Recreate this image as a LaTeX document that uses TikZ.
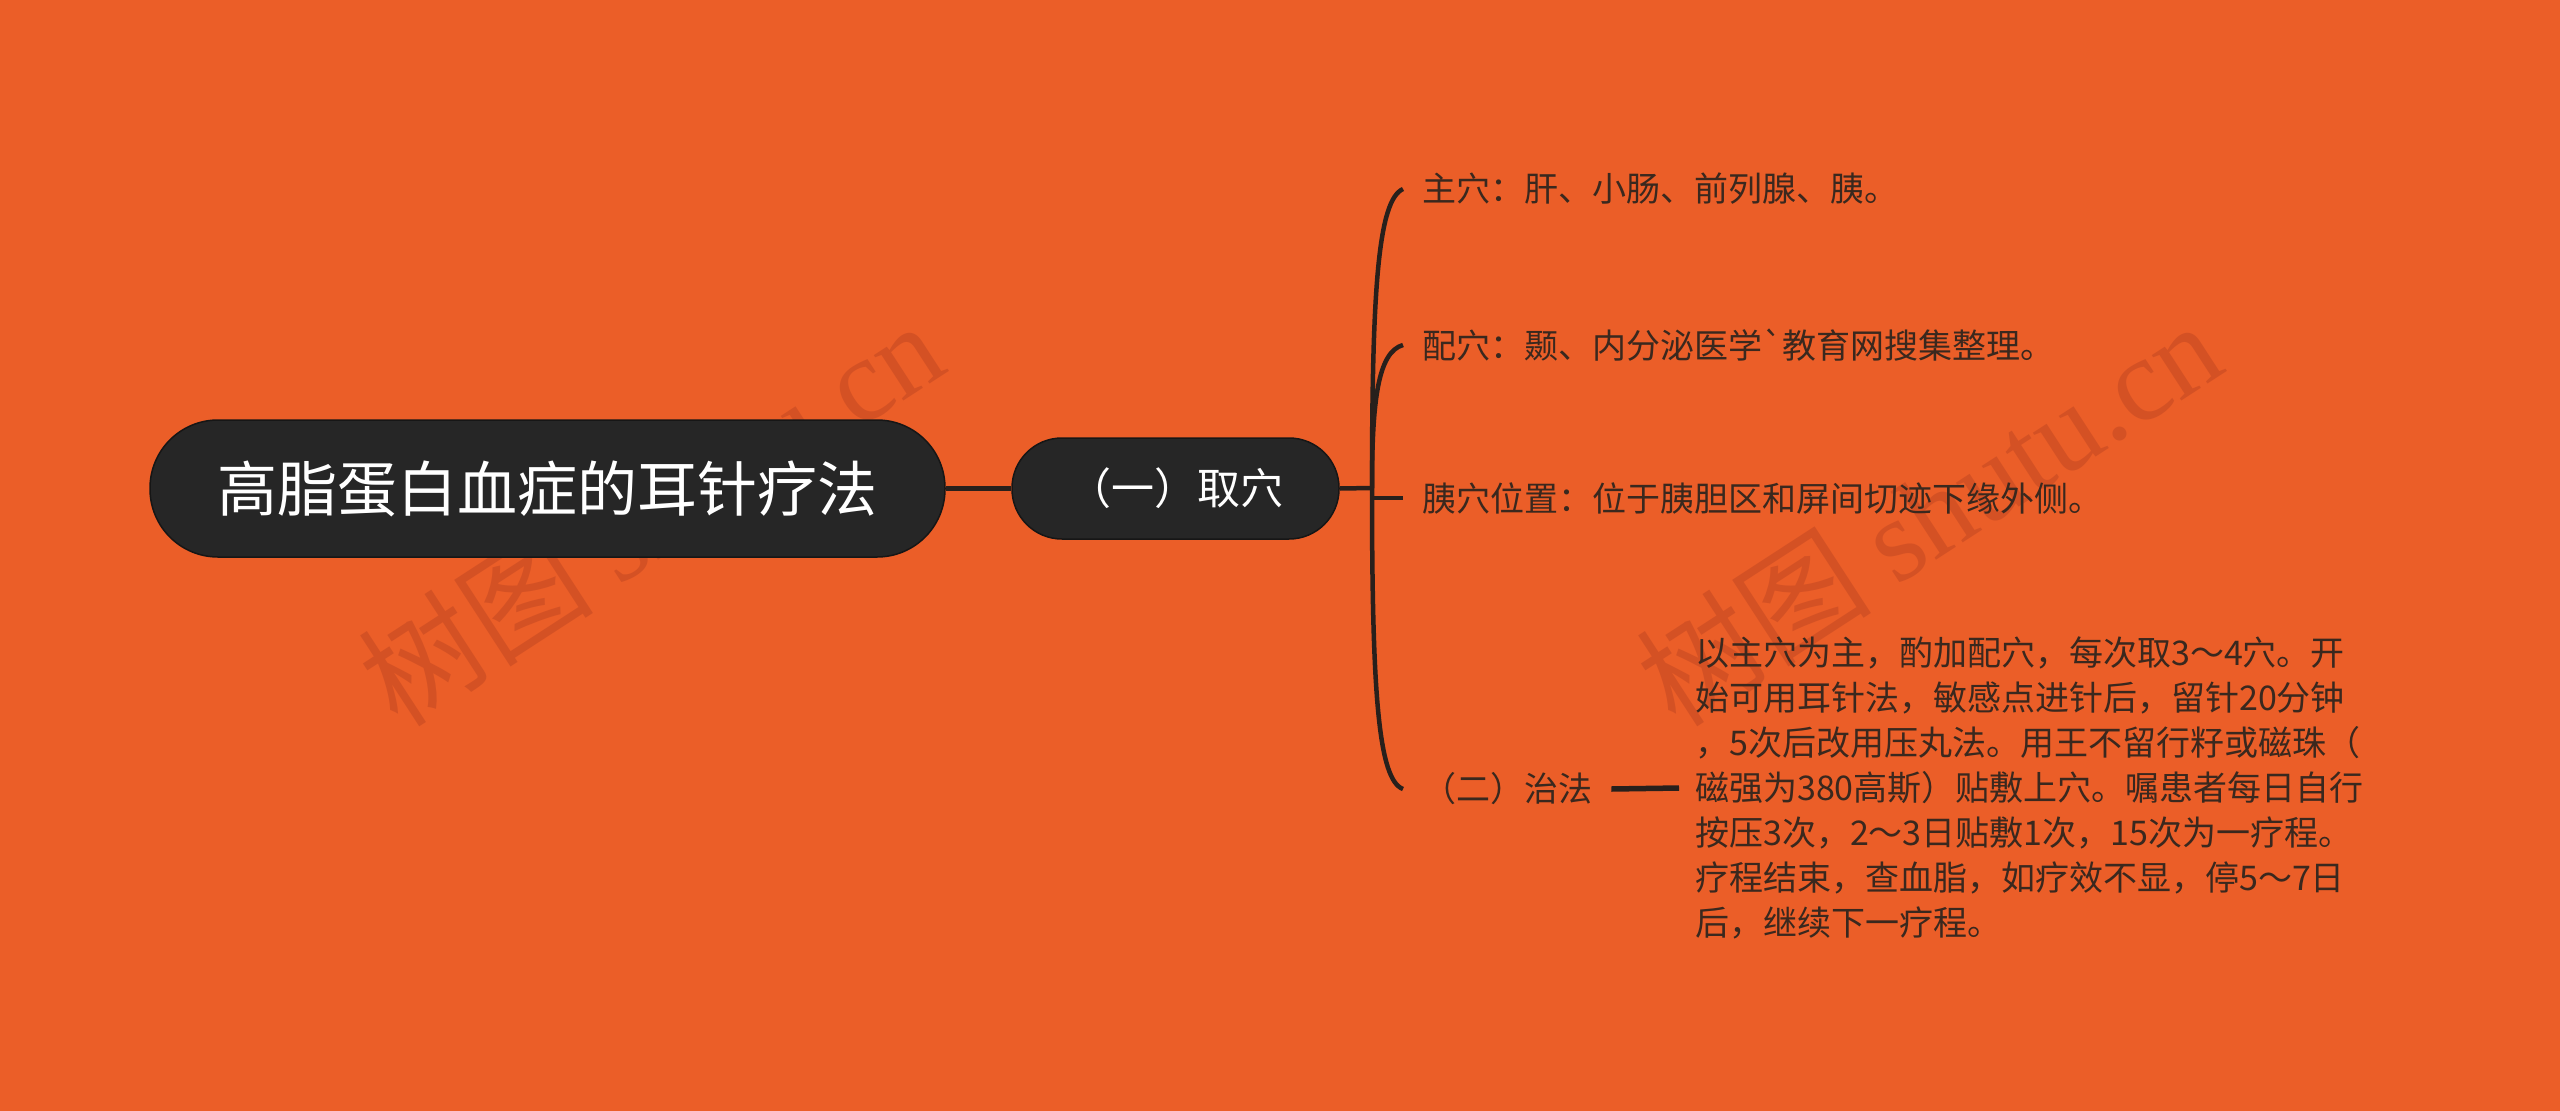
\documentclass[tikz,border=0pt]{standalone}
\usepackage{fontspec}
\newfontfamily\cjk{Noto Sans CJK SC}
\newfontfamily\wmlatin{Liberation Serif}
\definecolor{bg}{RGB}{235,94,40}
\definecolor{nodefill}{RGB}{38,38,38}
\definecolor{nodeline}{RGB}{22,22,22}
\definecolor{txt}{RGB}{58,40,30}
\definecolor{edge}{RGB}{40,32,28}
\definecolor{wm}{RGB}{170,58,30}
\begin{document}
\begin{tikzpicture}[x=1pt,y=-1pt,
  mainnode/.style={draw=nodeline, line width=1.5pt, fill=nodefill, text=white, inner sep=0pt},
  leaf/.style={text=txt, inner ysep=0pt, inner xsep=19pt, anchor=west, font=\cjk\fontsize{34pt}{45pt}\selectfont},
  para/.style={text=txt, inner ysep=0pt, inner xsep=16pt, anchor=west, align=left, font=\cjk\fontsize{34pt}{45pt}\selectfont},
  conn/.style={draw=edge, line width=4.5pt},
  wmark/.style={text=wm, opacity=0.35, rotate=33, inner sep=0pt}]
\fill[bg] (0,0) rectangle (2560,1111);
\useasboundingbox (0,0) rectangle (2560,1111);

% watermarks
\node[wmark] (wm1) at (650,512) {\cjk\fontsize{118pt}{118pt}\selectfont 树图 \wmlatin shutu.cn};
\node[wmark] (wm2) at (1928,512) {\cjk\fontsize{118pt}{118pt}\selectfont 树图 \wmlatin shutu.cn};

% main nodes
\node[mainnode, rounded corners=68pt, minimum width=795pt, minimum height=137pt,
      font=\cjk\fontsize{60pt}{60pt}\selectfont] (root) at (547.5,488.5) {高脂蛋白血症的耳针疗法};
\node[mainnode, rounded corners=50pt, minimum width=327pt, minimum height=101pt,
      font=\cjk\fontsize{43pt}{43pt}\selectfont] (n1) at (1175.5,488.5) {（一）取穴};

% leaves
\node[leaf] (a1) at (1403,189) {主穴：肝、小肠、前列腺、胰。};
\node[leaf] (a2) at (1403,345) {配穴：颞、内分泌医学`教育网搜集整理。};
\node[leaf] (a3) at (1403,498) {胰穴位置：位于胰胆区和屏间切迹下缘外侧。};
\node[leaf] (b) at (1403,789) {（二）治法};
\node[para] (p) at (1679,788) {以主穴为主，酌加配穴，每次取3～4穴。开\\
始可用耳针法，敏感点进针后，留针20分钟\\
，5次后改用压丸法。用王不留行籽或磁珠（\\
磁强为380高斯）贴敷上穴。嘱患者每日自行\\
按压3次，2～3日贴敷1次，15次为一疗程。\\
疗程结束，查血脂，如疗效不显，停5～7日\\
后，继续下一疗程。};

% connectors
\coordinate (J) at (1372,488);
\draw[conn] (root.east) -- (n1.west);
\draw[conn] (n1.east) -- (J);
\draw[conn] (J) .. controls (1372,290) and (1378,200) .. (a1.west);
\draw[conn] (J) .. controls (1372,400) and (1378,352) .. (a2.west);
\draw[conn] (J|-a3.west) -- (a3.west);
\draw[conn] (J) .. controls (1372,690) and (1378,780) .. (b.west);
\draw[conn, line width=5.5pt] (b.east) -- (p.west);
\end{tikzpicture}
\end{document}
